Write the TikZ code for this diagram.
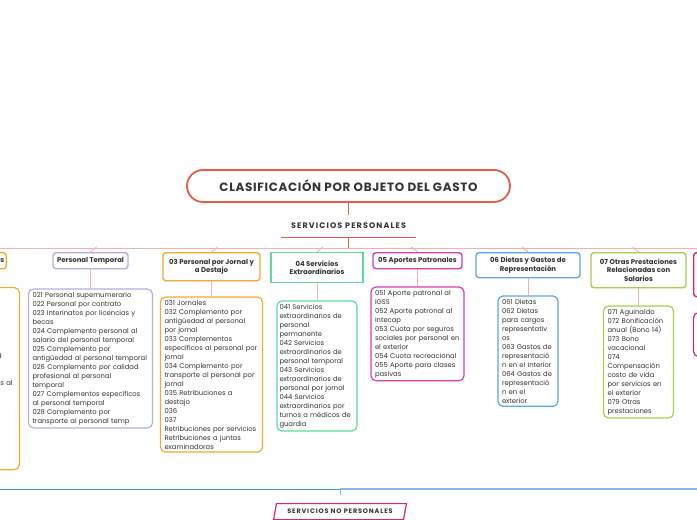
\documentclass[tikz,border=0pt]{standalone}
\usepackage{fontspec}
\setmainfont{Poppins}
\usetikzlibrary{positioning, calc, shapes.geometric}
\definecolor{texto}{HTML}{333333}
\definecolor{rojo}{HTML}{E9594D}
\definecolor{rosa}{HTML}{F6B0B0}
\definecolor{naranja}{HTML}{F7A832}
\definecolor{lavanda}{HTML}{B7ACE0}
\definecolor{verde}{HTML}{5EDB9A}
\definecolor{magenta}{HTML}{D83CB6}
\definecolor{azul}{HTML}{5AA8E6}
\definecolor{lima}{HTML}{A6D04B}
\definecolor{carmesi}{HTML}{E0245E}
\definecolor{azuloscuro}{HTML}{4A8FDC}
\definecolor{azulclaro}{HTML}{86B8EC}

\begin{document}
\begin{tikzpicture}[
  x=1pt, y=-1pt,
  every node/.style={text=texto},
  titulo/.style={
    draw=rojo, line width=1.8pt, rounded corners=16pt,
    minimum width=323pt, minimum height=32pt,
    font=\fontsize{12}{14}\selectfont\bfseries\addfontfeature{LetterSpace=5.5}
  },
  seccion/.style={
    minimum width=134pt, minimum height=22pt, inner sep=0pt,
    font=\fontsize{8}{10}\selectfont\bfseries\addfontfeature{LetterSpace=14}
  },
  cabecera/.style={
    draw=#1, line width=1.4pt, rounded corners=3pt, fill=white,
    minimum height=16pt, inner sep=2pt, align=center,
    font=\fontsize{6.9}{8.6}\selectfont\bfseries
  },
  cuerpo/.style={
    draw=#1, line width=1.2pt, rounded corners=5pt, fill=white,
    inner xsep=4pt, inner ysep=3pt, align=left,
    font=\fontsize{6.8}{9}\selectfont
  },
  enlace/.style={draw=rosa, line width=0.9pt},
  paralelo/.style={
    trapezium, trapezium left angle=70, trapezium right angle=110,
    trapezium stretches=true, draw=carmesi, line width=1.2pt,
    minimum width=133pt, minimum height=16pt, inner sep=1pt,
    font=\fontsize{6.5}{8}\selectfont\bfseries\addfontfeature{LetterSpace=13}
  }
]
  \useasboundingbox (0,0) rectangle (697,520);
  \clip (0,0) rectangle (697,520);

  % --- Titulo y rama principal ---
  \node[titulo] (clasif) at (348.5,186) {CLASIFICACIÓN POR OBJETO DEL GASTO};
  \node[seccion, below=12pt of clasif] (personales) {SERVICIOS PERSONALES};
  \coordinate[below=11pt of personales.south] (rama);

  \draw[rojo, line width=1pt] (clasif.south) -- (personales.north);
  \draw[rojo, line width=1pt] (personales.south west) -- (personales.south east);
  \draw[rojo, line width=1pt] (personales.south) -- (rama);
  \draw[enlace] (rama) -- ++(-360,0) (rama) -- ++(360,0);

  % --- Cabeceras ---
  \node[cabecera=naranja, anchor=north east] (fijos) at (7,252) {01 Personal en Cargos Fijos};
  \node[cabecera=lavanda, minimum width=75pt, anchor=north] (temporal) at (90.5,252) {Personal Temporal};
  \node[cabecera=naranja, minimum width=97pt, minimum height=28pt, anchor=north] (jornal) at (211.5,252)
    {03 Personal por Jornal y\\a Destajo};
  \node[cabecera=verde, rounded corners=0pt, minimum width=92pt, minimum height=30pt, anchor=north] (extra) at (317,252)
    {04 Servicios\\Extraordinarios};
  \node[cabecera=magenta, minimum width=89pt, anchor=north] (aportes) at (417.5,252) {05 Aportes Patronales};
  \node[cabecera=azul, minimum width=104pt, minimum height=25pt, anchor=north] (dietas) at (528,252)
    {06 Dietas y Gastos de\\Representación};
  \node[cabecera=lima, minimum width=95pt, minimum height=35pt, anchor=north] (otras) at (638.5,252)
    {07 Otras Prestaciones\\Relacionadas con\\Salarios};
  \node[cabecera=carmesi, minimum width=90pt, minimum height=44pt, anchor=north west] (siguiente) at (693,252) {};

  % --- Listas ---
  \node[cuerpo=naranja, text width=118pt, anchor=north east] (fijoslista) at (20,287) {%
    011 Personal permanente\\012 Complemento personal al\\salario del personal\\permanente\\
    013 Complemento por\\antigüedad al personal\\permanente\\014 Complemento por calidad\\
    profesional al personal\\permanente\\015 Complementos específicos al\\personal permanente\\
    016 Complemento por\\transporte al personal\\permanente\\017 Derechos\\escalafonarios\\
    018 Complemento\\específico\\019 Bonos};
  \node[cuerpo=lavanda, text width=116pt, below=19pt of temporal] (temporallista) {%
    021 Personal supernumerario\\022 Personal por contrato\\023 Interinatos por licencias y\\becas\\
    024 Complemento personal al\\salario del personal temporal\\025 Complemento por\\
    antigüedad al personal temporal\\026 Complemento por calidad\\profesional al personal\\temporal\\
    027 Complementos específicos\\al personal temporal\\028 Complemento por\\transporte al personal temp};
  \node[cuerpo=naranja, text width=94pt, below=15pt of jornal] (jornallista) {%
    031 Jornales\\032 Complemento por\\antigüedad al personal\\por jornal\\033 Complementos\\
    específicos al personal por\\jornal\\034 Complemento por\\transporte al personal por\\jornal\\
    035 Retribuciones a\\destajo\\036\\037\\Retribuciones por servicios\\Retribuciones a juntas\\examinadoras};
  \node[cuerpo=verde, text width=75pt, inner xsep=2.5pt, below=17pt of extra] (extralista) {%
    041 Servicios\\extraordinarios de\\personal\\permanente\\042 Servicios\\extraordinarios de\\
    personal temporal\\043 Servicios\\extraordinarios de\\personal por jornal\\044 Servicios\\
    extraordinarios por\\turnos a médicos de\\guardia};
  \node[cuerpo=magenta, text width=85pt, below=17pt of aportes] (aporteslista) {%
    051 Aporte patronal al\\IGSS\\052 Aporte patronal al\\Intecap\\053 Cuota por seguros\\
    sociales por personal en\\el exterior\\054 Cuota recreacional\\055 Aporte para clases\\pasivas};
  \node[cuerpo=azul, text width=52pt, below=17pt of dietas] (dietaslista) {%
    061 Dietas\\062 Dietas\\para cargos\\representativ\\os\\063 Gastos de\\representació\\
    n en el interior\\064 Gastos de\\representació\\n en el\\exterior};
  \node[cuerpo=lima, text width=62pt, below=17pt of otras] (otraslista) {%
    071 Aguinaldo\\072 Bonificación\\anual (Bono 14)\\073 Bono\\vacacional\\074\\Compensación\\
    costo de vida\\por servicios en\\el exterior\\079 Otras\\prestaciones};
  \node[cuerpo=carmesi, minimum width=90pt, minimum height=44pt, anchor=north west] (siguientelista) at (693,312) {};

  % --- Ramas y enlaces ---
  \foreach \cab in {fijos, temporal, jornal, extra}
    \draw[enlace] (\cab.north) -- ++(6,-5);
  \foreach \cab in {aportes, dietas, otras, siguiente}
    \draw[enlace] (\cab.north) -- ++(-6,-5);
  \foreach \cab in {fijos, temporal, jornal, extra, aportes, dietas, otras, siguiente}
    \draw[enlace] (\cab.south) -- (\cab lista.north);

  % --- Servicios no personales ---
  \coordinate (ramanop) at (340,489);
  \draw[azuloscuro, line width=0.9pt] (ramanop) -- ++(-345,0);
  \draw[azulclaro, line width=1.4pt] (ramanop) -- ++(360,0);
  \node[paralelo, below=14pt of ramanop] (nopersonales) {SERVICIOS NO PERSONALES};
  \draw[azulclaro, line width=0.9pt] (ramanop) -- ++(0,6);
\end{tikzpicture}
\end{document}
